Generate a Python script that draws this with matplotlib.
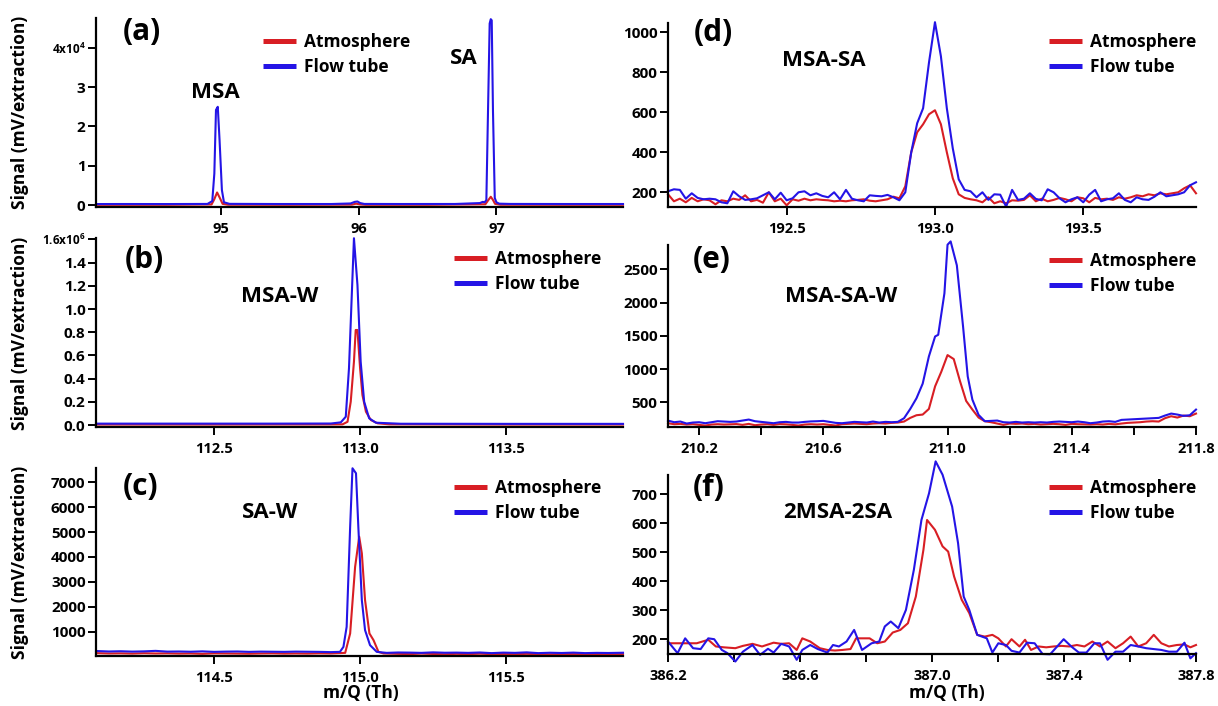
import matplotlib
matplotlib.use('Agg')
import matplotlib.pyplot as plt
from matplotlib.lines import Line2D

plt.rcParams['font.family'] = ['Open Sans', 'DejaVu Sans']
plt.rcParams['font.weight'] = 'bold'
plt.rcParams['mathtext.fontset'] = 'custom'
plt.rcParams['mathtext.rm'] = 'Open Sans:bold'
plt.rcParams['mathtext.bf'] = 'Open Sans:bold'
plt.rcParams['mathtext.default'] = 'rm'

RED = '#d81e24'
BLUE = '#2414e6'

# ---------------- data ----------------
# (a) MSA / SA monomers
a_atm_x = [94.09, 94.60, 94.93, 94.95, 94.97, 94.99, 95.01, 95.05, 95.50, 95.95, 95.98, 96.01, 96.05,
           96.50, 96.92, 96.94, 96.959, 96.975, 96.99, 97.03, 97.50, 97.92]
a_atm_y = [50, 60, 150, 1500, 3200, 1800, 300, 80, 60, 100, 350, 150, 60,
           60, 200, 1200, 2100, 1300, 300, 80, 60, 60]
a_ft_x = [94.09, 94.30, 94.60, 94.90, 94.935, 94.95, 94.962, 94.975, 94.988, 95.005, 95.02, 95.06,
          95.40, 95.80, 95.94, 95.97, 95.99, 96.01, 96.04, 96.30, 96.70, 96.88, 96.90, 96.915,
          96.927, 96.939, 96.951, 96.959, 96.966, 96.975, 96.988, 97.00, 97.02, 97.10, 97.50, 97.92]
a_ft_y = [250, 260, 250, 280, 1000, 8000, 24200, 25000, 16500, 3800, 700, 300,
          260, 260, 400, 800, 900, 500, 280, 260, 270, 500, 800, 700,
          1300, 24000, 46200, 47300, 47000, 24000, 1800, 700, 350, 280, 260, 260]

# (b) MSA-W
b_atm_x = [112.096, 112.50, 112.90, 112.940, 112.957, 112.968, 112.979, 112.985, 112.991, 113.000,
           113.008, 113.020, 113.037, 113.060, 113.10, 113.50, 113.90]
b_atm_y = [4000, 4000, 5000, 6000, 28000, 201000, 546000, 819000, 819000, 489000,
           259000, 115000, 43000, 14700, 6000, 4000, 4000]
b_ft_x = [112.096, 112.40, 112.70, 112.90, 112.934, 112.951, 112.962, 112.979, 112.991, 113.002,
          113.014, 113.031, 113.054, 113.139, 113.50, 113.90]
b_ft_y = [12000, 12000, 12000, 13000, 23000, 71500, 489000, 1610000, 1207000, 546000,
          201000, 58000, 20000, 11000, 10000, 10000]

# (c) SA-W
c_atm_x = [114.096, 114.14, 114.18, 114.22, 114.26, 114.30, 114.34, 114.38, 114.42, 114.46, 114.50,
           114.54, 114.58, 114.62, 114.66, 114.70, 114.74, 114.78, 114.82, 114.86, 114.90,
           114.949, 114.966, 114.983, 114.997, 115.006, 115.017, 115.032, 115.046, 115.063, 115.080,
           115.13, 115.17, 115.21, 115.25, 115.29, 115.33, 115.37, 115.41, 115.45, 115.49,
           115.53, 115.57, 115.61, 115.65, 115.69, 115.73, 115.77, 115.81, 115.85, 115.90]
c_atm_y = [140, 125, 130, 120, 135, 125, 130, 120, 125, 110, 130,
           125, 120, 115, 125, 130, 120, 125, 120, 130, 125,
           150, 930, 3607, 4813, 4146, 2269, 930, 660, 190, 126,
           110, 100, 120, 105, 95, 110, 100, 115, 100, 105,
           95, 110, 100, 90, 105, 100, 95, 105, 90, 100]
c_ft_x = [114.096, 114.14, 114.18, 114.22, 114.26, 114.30, 114.34, 114.38, 114.42, 114.46, 114.50,
          114.54, 114.58, 114.62, 114.66, 114.70, 114.74, 114.78, 114.82, 114.86, 114.90,
          114.931, 114.943, 114.954, 114.966, 114.974, 114.986, 114.994, 115.006, 115.017, 115.034,
          115.057, 115.091,
          115.13, 115.17, 115.21, 115.25, 115.29, 115.33, 115.37, 115.41, 115.45, 115.49,
          115.53, 115.57, 115.61, 115.65, 115.69, 115.73, 115.77, 115.81, 115.85, 115.90]
c_ft_y = [225, 205, 215, 200, 210, 230, 200, 205, 195, 210, 190,
          200, 205, 190, 200, 195, 190, 200, 195, 190, 180,
          190, 391, 1195, 5215, 7563, 7362, 5215, 2269, 1063, 460,
          190, 150,
          165, 160, 150, 170, 155, 160, 150, 165, 140, 160,
          150, 170, 140, 155, 145, 160, 140, 150, 145, 155]

# (d) MSA-SA
d_x = [192.10, 192.12, 192.14, 192.16, 192.18, 192.20, 192.22, 192.24, 192.26, 192.28,
       192.30, 192.32, 192.34, 192.36, 192.38, 192.40, 192.42, 192.44, 192.46, 192.48,
       192.50, 192.52, 192.54, 192.56, 192.58, 192.60, 192.62, 192.64, 192.66, 192.68,
       192.70, 192.72, 192.74, 192.76, 192.78, 192.80, 192.82, 192.84, 192.86, 192.88,
       192.90, 192.92, 192.94, 192.96, 192.98, 193.00, 193.02, 193.04, 193.06, 193.08,
       193.10, 193.12, 193.14, 193.16, 193.18, 193.20, 193.22, 193.24, 193.26, 193.28,
       193.30, 193.32, 193.34, 193.36, 193.38, 193.40, 193.42, 193.44, 193.46, 193.48,
       193.50, 193.52, 193.54, 193.56, 193.58, 193.60, 193.62, 193.64, 193.66, 193.68,
       193.70, 193.72, 193.74, 193.76, 193.78, 193.80, 193.82, 193.84, 193.86, 193.88]
d_atm_y = [190, 155, 168, 150, 172, 155, 165, 160, 140, 160,
           155, 168, 162, 185, 155, 162, 148, 200, 155, 168,
           135, 165, 158, 168, 160, 165, 162, 160, 155, 158,
           155, 160, 162, 165, 158, 155, 160, 165, 178, 170,
           230, 400, 500, 540, 590, 610, 540, 400, 270, 190,
           172, 165, 160, 150, 175, 145, 155, 145, 160, 158,
           162, 185, 155, 168, 155, 162, 172, 165, 155, 175,
           170, 150, 172, 165, 168, 162, 175, 168, 175, 185,
           180, 190, 185, 195, 190, 195, 200, 220, 235, 195]
d_ft_y = [205, 215, 212, 168, 195, 172, 165, 168, 165, 150,
          145, 205, 180, 162, 165, 170, 185, 200, 165, 198,
          160, 170, 200, 205, 185, 195, 182, 175, 200, 165,
          212, 168, 160, 155, 185, 182, 180, 187, 175, 160,
          200, 400, 545, 620, 850, 1050, 880, 620, 420, 265,
          212, 205, 175, 200, 162, 190, 188, 128, 212, 162,
          168, 195, 167, 160, 215, 200, 170, 150, 165, 175,
          150, 188, 212, 155, 165, 170, 195, 162, 150, 175,
          165, 162, 178, 200, 180, 185, 190, 200, 235, 250]

# (e) MSA-SA-W
e_atm_x = [210.10, 210.12, 210.14, 210.16, 210.18, 210.20, 210.22, 210.24, 210.26, 210.28,
           210.30, 210.32, 210.34, 210.36, 210.38, 210.40, 210.42, 210.44, 210.46, 210.48,
           210.50, 210.52, 210.54, 210.56, 210.58, 210.60, 210.62, 210.64, 210.66, 210.68,
           210.70, 210.72, 210.74, 210.76, 210.78, 210.80, 210.82, 210.84, 210.86, 210.88,
           210.90, 210.92, 210.94, 210.96, 210.98, 211.00, 211.02, 211.04, 211.06, 211.08,
           211.10, 211.12, 211.14, 211.16, 211.18, 211.20, 211.22, 211.24, 211.26, 211.28,
           211.30, 211.32, 211.34, 211.36, 211.38, 211.40, 211.42, 211.44, 211.46, 211.48,
           211.50, 211.52, 211.54, 211.56, 211.58, 211.60, 211.62, 211.64, 211.66, 211.68,
           211.70, 211.72, 211.74, 211.76, 211.78, 211.80]
e_atm_y = [185, 170, 175, 165, 170, 160, 150, 165, 170, 165,
           168, 172, 160, 175, 155, 165, 170, 160, 172, 168,
           160, 150, 165, 170, 165, 170, 160, 150, 170, 175,
           180, 175, 170, 180, 185, 180, 190, 195, 210, 265,
           305, 315, 400, 740, 960, 1210, 1150, 820, 520, 390,
           270, 215, 200, 180, 160, 180, 175, 180, 170, 175,
           165, 170, 175, 170, 160, 175, 170, 168, 165, 170,
           165, 175, 168, 180, 190, 195, 200, 210, 215, 210,
           260, 290, 270, 300, 290, 330]
e_ft_x = [210.10, 210.12, 210.14, 210.16, 210.18, 210.20, 210.22, 210.24, 210.26, 210.28,
          210.30, 210.32, 210.34, 210.36, 210.38, 210.40, 210.42, 210.44, 210.46, 210.48,
          210.50, 210.52, 210.54, 210.56, 210.58, 210.60, 210.62, 210.64, 210.66, 210.68,
          210.70, 210.72, 210.74, 210.76, 210.78, 210.80, 210.82, 210.84, 210.86, 210.88,
          210.90, 210.92, 210.94,
          210.96, 210.97, 210.99, 211.00, 211.01, 211.03, 211.05, 211.065, 211.08, 211.10,
          211.12, 211.14, 211.16, 211.18, 211.20, 211.22, 211.24, 211.26, 211.28, 211.30,
          211.32, 211.34, 211.36, 211.38, 211.40, 211.42, 211.44, 211.46, 211.48, 211.50,
          211.52, 211.54, 211.56, 211.58, 211.60, 211.62, 211.64, 211.66, 211.68, 211.70,
          211.72, 211.74, 211.76, 211.78, 211.80]
e_ft_y = [224, 200, 210, 180, 195, 200, 185, 200, 215, 210,
          205, 210, 225, 240, 215, 205, 195, 185, 200, 205,
          195, 195, 205, 212, 215, 220, 205, 190, 185, 195,
          205, 200, 195, 210, 195, 205, 200, 205, 260, 400,
          560, 780, 1190,
          1490, 1515, 2140, 2870, 2920, 2560, 1640, 890, 540, 310,
          215, 220, 225, 200, 195, 205, 195, 200, 195, 200,
          195, 205, 210, 205, 200, 210, 200, 185, 195, 210,
          215, 205, 235, 240, 245, 250, 255, 260, 265, 300,
          330, 315, 295, 305, 390]

# (f) 2MSA-2SA
f_atm_x = [386.200, 386.229, 386.258, 386.287, 386.322, 386.345, 386.369, 386.404, 386.427, 386.456,
           386.485, 386.520, 386.543, 386.567, 386.590, 386.607, 386.631, 386.660, 386.683, 386.706,
           386.729, 386.753, 386.770, 386.793, 386.811, 386.834, 386.857, 386.881, 386.904, 386.927,
           386.951, 386.974, 386.985, 387.009, 387.032, 387.049, 387.067, 387.090, 387.113, 387.137,
           387.160, 387.183, 387.201, 387.224, 387.241, 387.265, 387.282, 387.300, 387.323, 387.346,
           387.369, 387.393, 387.416, 387.439, 387.462, 387.486, 387.509, 387.532, 387.556, 387.579,
           387.602, 387.625, 387.649, 387.672, 387.695, 387.718, 387.742, 387.765, 387.783, 387.800]
f_atm_y = [186, 186, 186, 186, 198, 175, 172, 169, 177, 184,
           175, 188, 184, 186, 163, 203, 192, 169, 163, 161,
           163, 166, 203, 203, 203, 186, 192, 223, 232, 255,
           347, 508, 611, 577, 520, 502, 416, 336, 290, 215,
           209, 215, 203, 175, 200, 175, 198, 163, 175, 172,
           175, 177, 175, 180, 175, 192, 175, 192, 169, 186,
           209, 175, 186, 215, 186, 175, 180, 182, 172, 180]
f_ft_x = [386.200, 386.229, 386.252, 386.276, 386.299, 386.322, 386.340, 386.363, 386.380, 386.404,
          386.427, 386.456, 386.479, 386.503, 386.520, 386.543, 386.567, 386.590, 386.607, 386.631,
          386.654, 386.683, 386.700, 386.718, 386.741, 386.764, 386.788, 386.817, 386.840, 386.857,
          386.875, 386.898, 386.921, 386.945, 386.968, 386.991, 387.011, 387.032, 387.061, 387.079,
          387.096, 387.113, 387.137, 387.166, 387.183, 387.201, 387.224, 387.241, 387.265, 387.288,
          387.311, 387.335, 387.358, 387.399, 387.422, 387.445, 387.468, 387.492, 387.509, 387.532,
          387.556, 387.579, 387.602, 387.625, 387.649, 387.672, 387.695, 387.718, 387.742, 387.765,
          387.783, 387.800]
f_ft_y = [192, 152, 203, 169, 166, 203, 200, 163, 152, 123,
          157, 180, 146, 167, 154, 184, 175, 129, 163, 180,
          166, 154, 180, 175, 192, 232, 163, 186, 192, 244,
          261, 238, 301, 439, 611, 703, 813, 767, 657, 531,
          347, 301, 215, 203, 154, 186, 180, 160, 154, 188,
          186, 149, 148, 200, 175, 154, 154, 186, 186, 129,
          157, 157, 180, 175, 169, 166, 163, 157, 157, 188,
          134, 152]

# ticks / labels
a_xticks = [95, 96, 97]
a_xlabels = ['95', '96', '97']
a_yticks = [0, 10000, 20000, 30000, 40000]
a_ylabels = ['0', '1', '2', '3', r'4x10$^{4}$']
b_xticks = [112.5, 113.0, 113.5]
b_xlabels = ['112.5', '113.0', '113.5']
b_yticks = [0, 200000, 400000, 600000, 800000, 1000000, 1200000, 1400000, 1600000]
b_ylabels = ['0.0', '0.2', '0.4', '0.6', '0.8', '1.0', '1.2', '1.4', r'1.6x10$^{6}$']
c_xticks = [114.5, 115.0, 115.5]
c_xlabels = ['114.5', '115.0', '115.5']
c_yticks = [1000, 2000, 3000, 4000, 5000, 6000, 7000]
c_ylabels = ['1000', '2000', '3000', '4000', '5000', '6000', '7000']
d_xticks = [192.5, 193.0, 193.5]
d_xlabels = ['192.5', '193.0', '193.5']
d_yticks = [200, 400, 600, 800, 1000]
d_ylabels = ['200', '400', '600', '800', '1000']
e_xticks = [210.2, 210.6, 211.0, 211.4, 211.8]
e_xlabels = ['210.2', '210.6', '211.0', '211.4', '211.8']
e_xminor = [210.4, 210.8, 211.2, 211.6]
e_yticks = [500, 1000, 1500, 2000, 2500]
e_ylabels = ['500', '1000', '1500', '2000', '2500']
f_xticks = [386.2, 386.6, 387.0, 387.4, 387.8]
f_xlabels = ['386.2', '386.6', '387.0', '387.4', '387.8']
f_xminor = [386.4, 386.8, 387.2, 387.6]
f_yticks = [200, 300, 400, 500, 600, 700]
f_ylabels = ['200', '300', '400', '500', '600', '700']

series_names = ['Atmosphere', 'Flow tube']
ylabel_text = 'Signal (mV/extraction)'
xlabel_text = 'm/Q (Th)'

# ---------------- layout ----------------
W, H = 1218, 706
fig = plt.figure(figsize=(W / 100, H / 100), dpi=100)


def fx(px):
    return px / W


def fy(py):
    return 1 - py / H


def rect(l, t, r, b):
    return [l / W, 1 - b / H, (r - l) / W, (b - t) / H]


panels = [
    dict(rect=rect(96, 18, 623, 207), xlim=(94.09, 97.92), ylim=(-500, 47600),
         atm=(a_atm_x, a_atm_y), ft=(a_ft_x, a_ft_y),
         xt=(a_xticks, a_xlabels), xm=[], yt=(a_yticks, a_ylabels),
         tag='(a)', tagpos=(142, 32),
         names=[('MSA', 215, 93), ('SA', 464, 59)], leg=(263, 33)),
    dict(rect=rect(96, 238, 623, 427), xlim=(112.096, 113.90), ylim=(-17000, 1612000),
         atm=(b_atm_x, b_atm_y), ft=(b_ft_x, b_ft_y),
         xt=(b_xticks, b_xlabels), xm=[], yt=(b_yticks, b_ylabels),
         tag='(b)', tagpos=(144, 260),
         names=[('MSA-W', 280, 296)], leg=(454, 250)),
    dict(rect=rect(96, 468, 623, 656), xlim=(114.096, 115.90), ylim=(24, 7574),
         atm=(c_atm_x, c_atm_y), ft=(c_ft_x, c_ft_y),
         xt=(c_xticks, c_xlabels), xm=[], yt=(c_yticks, c_ylabels),
         tag='(c)', tagpos=(141, 487),
         names=[('SA-W', 270, 512)], leg=(454, 479)),
    dict(rect=rect(668, 23, 1196, 207), xlim=(192.1, 193.88), ylim=(126.5, 1046),
         atm=(d_x, d_atm_y), ft=(d_x, d_ft_y),
         xt=(d_xticks, d_xlabels), xm=[], yt=(d_yticks, d_ylabels),
         tag='(d)', tagpos=(713, 33),
         names=[('MSA-SA', 824, 60)], leg=(1049, 33)),
    dict(rect=rect(668, 245, 1196, 427), xlim=(210.1, 211.8), ylim=(128, 2866),
         atm=(e_atm_x, e_atm_y), ft=(e_ft_x, e_ft_y),
         xt=(e_xticks, e_xlabels), xm=e_xminor, yt=(e_yticks, e_ylabels),
         tag='(e)', tagpos=(712, 260),
         names=[('MSA-SA-W', 841, 297)], leg=(1049, 252)),
    dict(rect=rect(668, 475, 1196, 654), xlim=(386.2, 387.8), ylim=(149, 766),
         atm=(f_atm_x, f_atm_y), ft=(f_ft_x, f_ft_y),
         xt=(f_xticks, f_xlabels), xm=f_xminor, yt=(f_yticks, f_ylabels),
         tag='(f)', tagpos=(709, 488),
         names=[('2MSA-2SA', 838, 512)], leg=(1049, 479)),
]

handles = [Line2D([], [], color=RED, lw=3.6, solid_capstyle='butt'),
           Line2D([], [], color=BLUE, lw=3.6, solid_capstyle='butt')]

for p in panels:
    ax = fig.add_axes(p['rect'])
    ax.plot(p['atm'][0], p['atm'][1], color=RED, lw=1.5, clip_on=False, zorder=3)
    ax.plot(p['ft'][0], p['ft'][1], color=BLUE, lw=1.5, clip_on=False, zorder=4)
    ax.set_xlim(*p['xlim'])
    ax.set_ylim(*p['ylim'])
    for s in ('top', 'right'):
        ax.spines[s].set_visible(False)
    for s in ('left', 'bottom'):
        ax.spines[s].set_linewidth(1.6)
        ax.spines[s].set_zorder(5)
    ax.set_xticks(p['xt'][0])
    ax.set_xticklabels(p['xt'][1])
    if p['xm']:
        ax.set_xticks(p['xm'], minor=True)
    ax.set_yticks(p['yt'][0])
    ax.set_yticklabels(p['yt'][1])
    ax.tick_params(axis='both', which='both', direction='out', length=5.5, width=1.4,
                   labelsize=10.5, colors='black')
    ax.tick_params(axis='x', which='major', pad=5)
    ax.tick_params(axis='y', which='major', pad=2, labelsize=11)
    for lab in ax.get_xticklabels() + ax.get_yticklabels():
        lab.set_fontweight('bold')
    # scientific-exponent labels are smaller
    for lab in ax.get_yticklabels():
        if 'x10' in lab.get_text():
            lab.set_fontsize(8.5)
    ax.patch.set_alpha(0)

    fig.text(fx(p['tagpos'][0]), fy(p['tagpos'][1]), p['tag'], fontsize=21.5, fontweight='bold',
             ha='center', va='center')
    for name, nx, ny in p['names']:
        fig.text(fx(nx), fy(ny), name, fontsize=16, fontweight='bold', ha='center', va='center')
    ax.legend(handles, series_names, loc='upper left',
              bbox_to_anchor=(fx(p['leg'][0]), fy(p['leg'][1])), bbox_transform=fig.transFigure,
              frameon=False, handlelength=1.9, handletextpad=0.45,
              labelspacing=0.38, borderpad=0, borderaxespad=0,
              prop={'weight': 'bold', 'size': 12.5})

# y labels (left column only)
for cy in (112, 333, 562):
    fig.text(fx(20), fy(cy), ylabel_text, rotation=90, fontsize=12.5, fontweight='bold',
             ha='center', va='center')
# x labels
fig.text(fx(361), fy(693), xlabel_text, fontsize=12.5, fontweight='bold', ha='center', va='center')
fig.text(fx(947), fy(693), xlabel_text, fontsize=12.5, fontweight='bold', ha='center', va='center')

fig.savefig('out.png', dpi=100)
